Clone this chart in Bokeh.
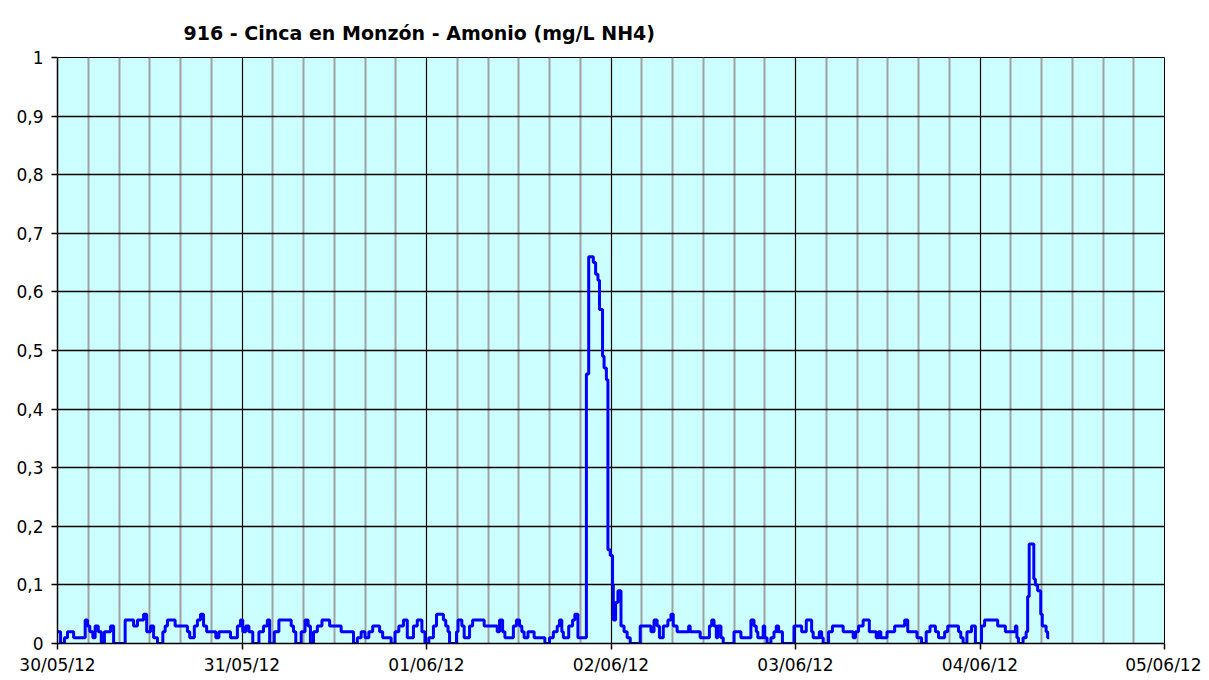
import pandas as pd
from bokeh.plotting import figure
from bokeh.models import FixedTicker, DatetimeTickFormatter, CustomJSTickFormatter, Range1d
from bokeh.embed import file_html
from bokeh.resources import INLINE

TITLE = "916 - Cinca en Monzón - Amonio (mg/L NH4)"
START = "2012-05-30"
END = "2012-06-05"

# hours since 30/05/12 00:00 at which the reading changes, and the reading (mg/L NH4)
hours = [0, 0.4, 0.9, 1.3, 2.1, 3.6, 3.9, 4.2, 4.6, 4.9, 5.3, 5.7, 6.1, 6.9, 7.3, 8.8, 9.9, 10.4,
         11.2, 11.6, 12.1, 12.5, 13.0, 13.7, 14.0, 14.3, 15.3, 16.9, 17.2, 17.8, 18.2, 18.6, 19.0,
         19.4, 20.6, 21.0, 22.5, 23.4, 23.8,
         24.1, 24.5, 24.9, 25.4, 26.2, 26.8, 27.3, 27.6, 28.2, 28.8, 30.4, 30.7, 31.0, 31.7, 32.2,
         32.6, 32.9, 33.3, 33.8, 34.4, 35.4, 36.9, 38.5, 39.0, 39.5, 40.0, 40.5, 41.0, 41.9, 42.3,
         43.4, 43.9, 44.4, 45.0, 45.5, 46.3, 46.8, 47.4, 47.8,
         48.3, 48.9, 49.3, 50.2, 50.5, 50.8, 51.0, 51.9, 52.1, 52.6, 52.9, 53.6, 54.0, 55.5, 57.2,
         57.5, 57.9, 58.2, 59.3, 59.7, 60.1, 60.4, 60.7, 61.2, 62.0, 63.4, 64.0, 64.5, 65.0, 65.3,
         65.6, 65.8, 66.5, 67.0, 67.3, 67.7, 68.8, 69.1, 69.7, 70.0, 70.3, 70.5, 70.9, 71.1, 71.4,
         71.6, 71.9,
         72.2, 72.3, 72.6, 72.9, 73.3, 73.7, 74.1, 74.5, 75.8, 77.2, 77.6, 78.0, 78.3, 78.8, 79.4,
         79.8, 80.1, 80.6, 82.1, 82.3, 83.6, 84.8, 85.1, 85.4, 85.7, 85.9, 86.3, 86.6, 88.0, 88.9,
         90.2, 90.6, 90.9, 91.1, 91.8, 92.0, 92.3, 92.8, 93.2, 93.5, 93.8, 94.3, 95.8,
         96.8, 97.4, 98.1, 98.3, 99.1, 99.4, 99.6, 100.3, 100.8, 102.2, 103.5, 103.8, 104.2, 104.8,
         105.6, 106.5, 106.8, 107.1, 107.9, 108.9, 110.2, 110.6, 111.8, 112.4, 113.0, 113.5, 114.2,
         114.6, 115.4, 115.8, 117.2, 117.5, 117.8, 118.3, 118.9, 119.4,
         120.2, 120.6, 122.3, 123.3, 124.6, 124.8, 125.0, 125.6, 126.0, 126.2, 126.4, 127.0, 127.2,
         127.5, 127.9, 128.1, 128.6, 128.8, 129.0]
nh4 = [0.02, 0, 0.01, 0.02, 0.01, 0.04, 0.03, 0.02, 0.01, 0.03, 0.02, 0, 0.02, 0.03, 0, 0.04, 0.03, 0.04,
       0.05, 0.02, 0.03, 0.01, 0, 0.02, 0.03, 0.04, 0.03, 0.02, 0.01, 0.03, 0.04, 0.05, 0.03,
       0.02, 0.01, 0.02, 0.01, 0.03, 0.04,
       0.02, 0.03, 0.02, 0, 0.02, 0.03, 0.04, 0, 0.02, 0.04, 0.03, 0.02, 0, 0.02, 0.04,
       0.03, 0, 0.02, 0.03, 0.04, 0.03, 0.02, 0, 0.01, 0.02, 0.01, 0.02, 0.03, 0.02, 0.01,
       0, 0.02, 0.03, 0.04, 0.01, 0.03, 0.04, 0.02, 0,
       0.01, 0.03, 0.05, 0.04, 0.03, 0.02, 0, 0.02, 0.04, 0.03, 0.01, 0.03, 0.04, 0.03, 0.02,
       0.04, 0.02, 0.01, 0.03, 0.04, 0.03, 0.02, 0.01, 0.02, 0.01, 0, 0.01, 0.02, 0.03, 0.04,
       0.02, 0.01, 0.03, 0.04, 0.05, 0.01, 0.46, 0.66, 0.65, 0.63, 0.62, 0.57, 0.49, 0.47, 0.45,
       0.16, 0.15,
       0.10, 0.04, 0.07, 0.09, 0.03, 0.02, 0.01, 0, 0.03, 0.02, 0.04, 0.03, 0.01, 0.03, 0.04,
       0.05, 0.03, 0.02, 0.03, 0.02, 0.01, 0.03, 0.04, 0.03, 0.01, 0.03, 0.01, 0, 0.02, 0.01,
       0.04, 0.03, 0.02, 0.01, 0.03, 0.01, 0, 0.01, 0.02, 0.03, 0.02, 0, 0.03,
       0.02, 0.04, 0.02, 0.01, 0.02, 0.01, 0, 0.02, 0.03, 0.02, 0.01, 0.02, 0.03, 0.04,
       0.02, 0.01, 0.02, 0.01, 0.02, 0.03, 0.04, 0.02, 0.01, 0, 0.02, 0.03, 0.02,
       0.01, 0.02, 0.03, 0.02, 0.01, 0, 0.02, 0.03, 0,
       0.03, 0.04, 0.03, 0.02, 0.03, 0.01, 0, 0.01, 0.02, 0.08, 0.17, 0.11, 0.10,
       0.09, 0.05, 0.03, 0.02, 0.01, 0.01]

y_ticks = [0, 0.1, 0.2, 0.3, 0.4, 0.5, 0.6, 0.7, 0.8, 0.9, 1]

start = pd.Timestamp(START)
times = start + pd.to_timedelta(hours, unit="h")

def ms(idx):
    return [int(t.value // 10**6) for t in idx]

day_idx = pd.date_range(START, END, freq="D")
four_h = [t for t in pd.date_range(START, END, freq="4h") if t.hour != 0]

p = figure(width=1201, height=672, frame_width=1107, frame_height=586,
           x_axis_type="datetime", output_backend="svg", toolbar_location=None,
           min_border_left=57, min_border_top=57, min_border_right=37, min_border_bottom=20,
           x_range=Range1d(start, pd.Timestamp(END)), y_range=Range1d(0, 1))

p.title.text = TITLE
p.title.text_font = "DejaVu Sans"
p.title.text_font_size = "19px"
p.title.text_font_style = "bold"
p.title.text_color = "black"
p.title.align = "left"
p.title.offset = 126
p.title.standoff = 28

p.background_fill_color = "#CCFFFF"
p.border_fill_color = "white"
p.outline_line_color = "black"
p.outline_line_width = 1

p.xaxis.ticker = FixedTicker(ticks=ms(day_idx), minor_ticks=ms(four_h))
p.xaxis.formatter = DatetimeTickFormatter(days="%d/%m/%y", months="%d/%m/%y", hours="%d/%m/%y")
p.yaxis.ticker = FixedTicker(ticks=y_ticks)
p.yaxis.formatter = CustomJSTickFormatter(code="""
    var s = tick.toFixed(1).replace('.', ',');
    if (s.endsWith(',0')) { s = s.slice(0, -2); }
    return s;
""")

for ax in (p.xaxis, p.yaxis):
    ax.axis_line_color = "black"
    ax.axis_line_width = 1.5
    ax.major_tick_line_color = "black"
    ax.major_tick_line_width = 1.5
    ax.major_tick_out = 6
    ax.major_tick_in = 0
    ax.minor_tick_line_color = None
    ax.major_label_text_font = "DejaVu Sans"
    ax.major_label_text_font_size = "17px"
    ax.major_label_text_color = "black"
p.xaxis.major_label_standoff = 5
p.yaxis.major_label_standoff = 8

p.xgrid.grid_line_color = "black"
p.xgrid.grid_line_width = 1.2
p.xgrid.minor_grid_line_color = "#A0A0A0"
p.xgrid.minor_grid_line_width = 2
p.ygrid.grid_line_color = "black"
p.ygrid.grid_line_width = 1.5

p.step(times, nh4, mode="after", line_color="#0000FF", line_width=3)

open("out.html", "w").write(file_html(p, INLINE))
